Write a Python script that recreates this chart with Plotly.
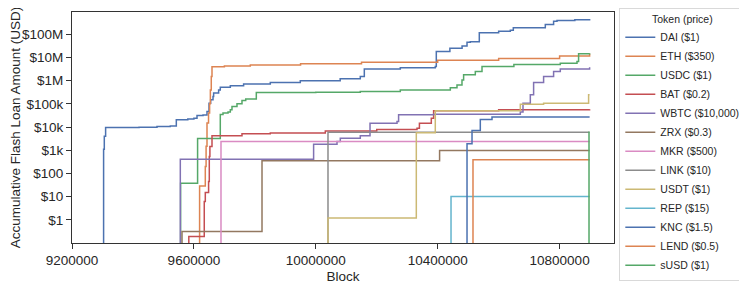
import plotly.graph_objects as go

# ---------------- data ----------------
TOKENS = ["DAI ($1)", "ETH ($350)", "USDC ($1)", "BAT ($0.2)", "WBTC ($10,000)",
          "ZRX ($0.3)", "MKR ($500)", "LINK ($10)", "USDT ($1)", "REP ($15)",
          "KNC ($1.5)", "LEND ($0.5)", "sUSD ($1)"]

# 0.001 marks "no loan yet" (below the visible axis range)
DAI_BLOCKS = [9303700, 9303700, 9306000, 9310300, 9420000, 9478900, 9522600, 9542300,
              9580000, 9600000, 9610200, 9630000, 9643000, 9649600, 9655000, 9662700,
              9664700, 9681100, 9686600, 9719500, 9763100, 9850700, 9949100, 10080000,
              10146000, 10159200, 10277300, 10392100, 10395400, 10440000, 10480000,
              10496200, 10507000, 10536500, 10600000, 10638300, 10648100, 10753100,
              10780300, 10791500, 10850000, 10898500]
DAI_USD = [0.001, 1100, 4000, 9500, 9700, 10500, 11200, 20500,
           22000, 24000, 31500, 33000, 46500, 107000, 150000, 206000,
           290000, 400000, 525000, 600000, 725000, 830000, 1000000, 1200000,
           1500000, 3200000, 3600000, 4050000, 17900000, 25000000, 31000000,
           45000000, 48000000, 115000000, 135000000, 150000000, 190000000, 265000000,
           360000000, 390000000, 420000000, 450000000]

ETH_BLOCKS = [9618700, 9618700, 9637400, 9640000, 9643000, 9648000, 9651500, 9654000,
              9657000, 9659400, 9700000, 9785100, 9950000, 10150000, 10400000,
              10600000, 10800000, 10898500]
ETH_USD = [0.001, 29, 200, 1500, 15000, 40000, 100000, 400000,
           1500000, 4000000, 4300000, 4700000, 5300000, 6200000, 7500000,
           9000000, 11500000, 14300000]

USDC_BLOCKS = [9556400, 9556400, 9612100, 9686600, 9695500, 9712000, 9719500, 9725000,
               9741400, 9757800, 9770000, 9804800, 10000000, 10146000, 10277300,
               10441400, 10463300, 10479700, 10485000, 10523400, 10545400, 10650000,
               10802300, 10857100, 10862300, 10898500]
USDC_USD = [0.001, 38, 3200, 35000, 40000, 45000, 55000, 76000,
            100000, 140000, 160000, 308000, 320000, 340000, 400000,
            500000, 656000, 1080000, 1780000, 2460000, 4050000, 5000000,
            5650000, 6650000, 14300000, 15300000]

BAT_BLOCKS = [9583300, 9583300, 9634000, 9637400, 9648200, 9650500, 9652500, 9659400,
              9757800, 9850700, 10031200, 10200000, 10332100, 10340000, 10379000,
              10386600, 10600000, 10898500]
BAT_USD = [0.001, 0.19, 6.2, 15, 45, 530, 1440, 4170,
           5100, 5500, 6800, 7800, 8900, 14700, 24000,
           51000, 55000, 59000]

WBTC_BLOCKS = [9555400, 9555400, 9992800, 10069600, 10080400, 10146000, 10177900,
               10266500, 10271700, 10386600, 10671100, 10679900, 10703900, 10714700,
               10747500, 10780300, 10802300, 10898500]
WBTC_USD = [0.001, 410, 1830, 2370, 3300, 4170, 14700,
            17300, 33600, 36000, 44000, 107000, 244000, 830000,
            1500000, 2460000, 3200000, 3800000]

ZRX_BLOCKS = [9561000, 9561000, 9823500, 10406200, 10898500]
ZRX_USD = [0.001, 0.31, 350, 975, 975]

MKR_BLOCKS = [9688900, 9688900, 10898500]
MKR_USD = [0.001, 2400, 2400]

LINK_BLOCKS = [10040000, 10040000, 10898500]
LINK_USD = [0.001, 6000, 6000]

USDT_BLOCKS = [10040000, 10040000, 10329800, 10392100, 10671100, 10747500, 10895200, 10898500]
USDT_USD = [0.001, 1.2, 5700, 50000, 97000, 107000, 244000, 244000]

REP_BLOCKS = [10443700, 10443700, 10898500]
REP_USD = [0.001, 10, 10]

KNC_BLOCKS = [10496200, 10496200, 10512600, 10539800, 10578200, 10898500]
KNC_USD = [0.001, 1900, 7100, 21000, 27000, 27000]

LEND_BLOCKS = [10515800, 10515800, 10898500]
LEND_USD = [0.001, 390, 390]

SUSD_BLOCKS = [10896500, 10896500, 10898500]
SUSD_USD = [0.001, 6000, 6000]

Y_TICKS = [1, 10, 100, 1e3, 1e4, 1e5, 1e6, 1e7, 1e8]
Y_TICK_TEXT = ["$1", "$10", "$100", "$1k", "$10k", "$100k", "$1M", "$10M", "$100M"]
X_TICKS = [9200000, 9600000, 10000000, 10400000, 10800000]
X_TICK_TEXT = ["9200000", "9600000", "10000000", "10400000", "10800000"]

# ---------------- style ----------------
PALETTE = ["#4C72B0", "#DD8452", "#55A868", "#C44E52", "#8172B3", "#937860",
           "#DA8BC3", "#8C8C8C", "#CCB974", "#64B5CD"]

SERIES = [
    (DAI_BLOCKS, DAI_USD), (ETH_BLOCKS, ETH_USD), (USDC_BLOCKS, USDC_USD),
    (BAT_BLOCKS, BAT_USD), (WBTC_BLOCKS, WBTC_USD), (ZRX_BLOCKS, ZRX_USD),
    (MKR_BLOCKS, MKR_USD), (LINK_BLOCKS, LINK_USD), (USDT_BLOCKS, USDT_USD),
    (REP_BLOCKS, REP_USD), (KNC_BLOCKS, KNC_USD), (LEND_BLOCKS, LEND_USD),
    (SUSD_BLOCKS, SUSD_USD),
]

FONT = "Liberation Sans"
TXT = "#262626"

fig = go.Figure()
for i, (name, (bx, vy)) in enumerate(zip(TOKENS, SERIES)):
    fig.add_trace(go.Scatter(
        x=bx, y=vy, name=name, mode="lines",
        line=dict(color=PALETTE[i % len(PALETTE)], width=1.5, shape="hv"),
    ))

# page body has an 8px default margin, so the figure is 8px smaller than the window
fig.update_layout(
    width=739, height=278,
    margin=dict(l=64, r=133, t=4, b=43, autoexpand=False),
    paper_bgcolor="white", plot_bgcolor="white",
    font=dict(family=FONT, size=13, color=TXT),
    showlegend=True,
    legend=dict(
        title=dict(text="Token (price)", side="top center", font=dict(size=10.5)),
        font=dict(size=10.5, color=TXT),
        x=1.0098, xanchor="left", y=1.017, yanchor="top",
        bordercolor="#d9d9d9", borderwidth=1, bgcolor="white",
        itemwidth=30, tracegroupgap=0, maxheight=278,
    ),
)
fig.update_xaxes(
    range=[9200000, 10978500], tickvals=X_TICKS, ticktext=X_TICK_TEXT,
    showgrid=False, zeroline=False, showline=True, linecolor="#333333", linewidth=1,
    mirror=True, ticks="outside", ticklen=5, tickcolor="#333333",
    tickfont=dict(size=13.5, color=TXT),
    title=dict(text="Block", font=dict(size=13.5, color=TXT), standoff=4),
)
fig.update_yaxes(
    type="log", range=[-1, 8.96], tickvals=Y_TICKS, ticktext=Y_TICK_TEXT,
    showgrid=False, zeroline=False, showline=True, linecolor="#333333", linewidth=1,
    mirror=True, ticks="outside", ticklen=5, tickcolor="#333333",
    tickfont=dict(size=13.5, color=TXT),
    title=dict(text="Accumulative Flash Loan Amount (USD)", font=dict(size=13.5, color=TXT),
               standoff=4),
)

fig.write_html("out.html")
